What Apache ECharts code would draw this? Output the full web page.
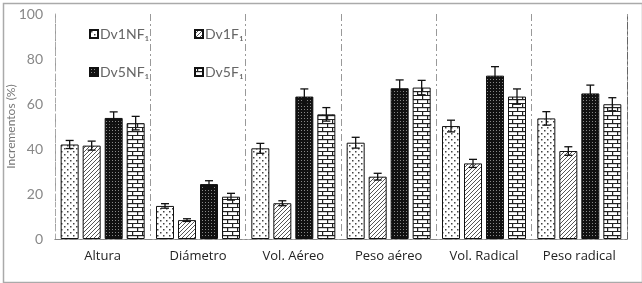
<!DOCTYPE html>
<html>
<head>
<meta charset="utf-8">
<script src="https://cdn.jsdelivr.net/npm/echarts@6/dist/echarts.min.js"></script>
<style>
  html, body { margin: 0; padding: 0; background: #fff; }
  #main { width: 642px; height: 283px; }
</style>
</head>
<body>
<div id="main"></div>
<script>
// data
var categories = ['Altura', 'Diámetro', 'Vol. Aéreo', 'Peso aéreo', 'Vol. Radical', 'Peso radical'];
var seriesNames = ['Dv1NF₁', 'Dv1F₁', 'Dv5NF₁', 'Dv5F₁'];
var dv1nf = [42, 14.7, 40.3, 42.8, 50.2, 53.6];
var dv1f  = [41.5, 8.4, 15.9, 27.7, 33.6, 39.1];
var dv5nf = [53.8, 24.4, 63.3, 67, 72.6, 64.7];
var dv5f  = [51.5, 18.8, 55.4, 67.3, 63.3, 59.9];
var err1 = [1.8, 1, 2.2, 2.4, 2.6, 3];
var err2 = [2, 0.6, 1.1, 1.5, 1.8, 1.9];
var err3 = [2.7, 1.5, 3.4, 3.7, 4, 3.7];
var err4 = [3, 1.5, 3, 3.2, 3.4, 2.9];
var yTicks = [0, 20, 40, 60, 80, 100];

var values = [dv1nf, dv1f, dv5nf, dv5f];
var errors = [err1, err2, err3, err4];

var BAR_W = 18, BAR_STEP = 22;

// fill patterns
function makePattern(w, h, draw) {
  var c = document.createElement('canvas');
  c.width = w; c.height = h;
  var ctx = c.getContext('2d');
  draw(ctx, w, h);
  return { image: c, repeat: 'repeat' };
}
var dots = makePattern(6, 6, function (ctx) {
  ctx.fillStyle = '#fff'; ctx.fillRect(0, 0, 6, 6);
  ctx.fillStyle = '#444';
  ctx.fillRect(1, 1, 1.5, 1.5);
  ctx.fillRect(4, 4, 1.5, 1.5);
});
var hatch = makePattern(4, 4, function (ctx) {
  ctx.fillStyle = '#fff'; ctx.fillRect(0, 0, 4, 4);
  ctx.strokeStyle = '#555'; ctx.lineWidth = 1;
  ctx.beginPath();
  ctx.moveTo(0, 4); ctx.lineTo(4, 0);
  ctx.moveTo(-1, 1); ctx.lineTo(1, -1);
  ctx.moveTo(3, 5); ctx.lineTo(5, 3);
  ctx.stroke();
});
var darkDots = makePattern(3, 3, function (ctx) {
  ctx.fillStyle = '#111'; ctx.fillRect(0, 0, 3, 3);
  ctx.fillStyle = '#888';
  ctx.fillRect(1, 1, 1, 1);
});
var bricks = makePattern(10, 8, function (ctx) {
  ctx.fillStyle = '#fff'; ctx.fillRect(0, 0, 10, 8);
  ctx.fillStyle = '#222';
  ctx.fillRect(0, 3, 10, 1.2);
  ctx.fillRect(0, 7, 10, 1.2);
  ctx.fillRect(2, 0, 1.2, 3);
  ctx.fillRect(7, 4, 1.2, 3);
});
var fills = [dots, hatch, darkDots, bricks];

var myChart = echarts.init(document.getElementById('main'));

var barSeries = values.map(function (v, i) {
  return {
    name: seriesNames[i],
    type: 'bar',
    barWidth: BAR_W,
    barGap: ((BAR_STEP - BAR_W) / BAR_W * 100) + '%',
    data: v,
    itemStyle: { color: fills[i], borderColor: '#111', borderWidth: 1 }
  };
});

var errData = [];
values.forEach(function (v, s) {
  v.forEach(function (val, c) {
    errData.push([c, val, errors[s][c], s]);
  });
});

var legendBase = {
  orient: 'vertical', top: 22, itemGap: 24,
  itemWidth: 8, itemHeight: 8, icon: 'rect',
  textStyle: { color: '#666', fontSize: 14, padding: [0, 0, 0, -3] }
};

var option = {
  animation: false,
  textStyle: { fontFamily: 'Lato, "Open Sans", sans-serif' },
  grid: { left: 55, right: 15, top: 14, bottom: 44, outerBoundsMode: 'none' },
  legend: [
    Object.assign({ data: [seriesNames[0], seriesNames[2]], left: 84 }, legendBase),
    Object.assign({ data: [seriesNames[1], seriesNames[3]], left: 189 }, legendBase)
  ],
  xAxis: [
    {
      type: 'category',
      data: categories,
      axisTick: { show: false },
      axisLine: { lineStyle: { color: '#aaa', width: 1 } },
      axisLabel: { interval: 0, color: '#222', fontSize: 13, fontFamily: '"Open Sans", sans-serif', margin: 11 },
      splitLine: { show: true, interval: 0, lineStyle: { color: '#999', type: [7, 3, 2, 3] } }
    },
    {
      type: 'category',
      position: 'top',
      data: categories,
      axisTick: { show: false },
      axisLabel: { show: false },
      axisLine: { show: true, lineStyle: { color: '#888', type: [7, 3, 2, 3] } }
    }
  ],
  yAxis: [
    {
      type: 'value',
      min: 0, max: 100, interval: 20,
      name: 'Incrementos (%)',
      nameLocation: 'middle',
      nameGap: 38,
      nameMoveOverlap: false,
      nameTextStyle: { color: '#777', fontSize: 12 },
      axisLine: { show: true, lineStyle: { color: '#aaa', type: [5, 3] } },
      axisTick: { show: false },
      axisLabel: {
        color: '#888', fontSize: 14, margin: 12,
        formatter: function (v) { return yTicks.indexOf(v) >= 0 ? String(v) : ''; }
      },
      splitLine: { show: false }
    },
    {
      type: 'value',
      min: 0, max: 100, interval: 20,
      position: 'right',
      axisLine: { show: true, lineStyle: { color: '#666', type: [7, 3, 2, 3] } },
      axisTick: { show: false },
      axisLabel: { show: false },
      splitLine: { show: false }
    }
  ],
  graphic: [
    {
      type: 'rect', left: 1, top: 1, silent: true,
      shape: { width: 639, height: 279 },
      style: { fill: 'none', stroke: '#aaa', lineWidth: 1.5 }
    }
  ],
  series: barSeries.concat([{
    type: 'custom',
    name: 'err',
    data: errData,
    z: 10,
    renderItem: function (params, api) {
      var c = api.value(0), v = api.value(1), e = api.value(2), s = api.value(3);
      var top = api.coord([c, v + e]);
      var bot = api.coord([c, v - e]);
      var x = top[0] + (s - 1.5) * BAR_STEP;
      var style = { stroke: '#111', lineWidth: 1.3 };
      return {
        type: 'group',
        children: [
          { type: 'line', shape: { x1: x, y1: top[1], x2: x, y2: bot[1] }, style: style },
          { type: 'line', shape: { x1: x - 4, y1: top[1], x2: x + 4, y2: top[1] }, style: style },
          { type: 'line', shape: { x1: x - 4, y1: bot[1], x2: x + 4, y2: bot[1] }, style: style }
        ]
      };
    }
  }])
};

myChart.setOption(option);
</script>
</body>
</html>
